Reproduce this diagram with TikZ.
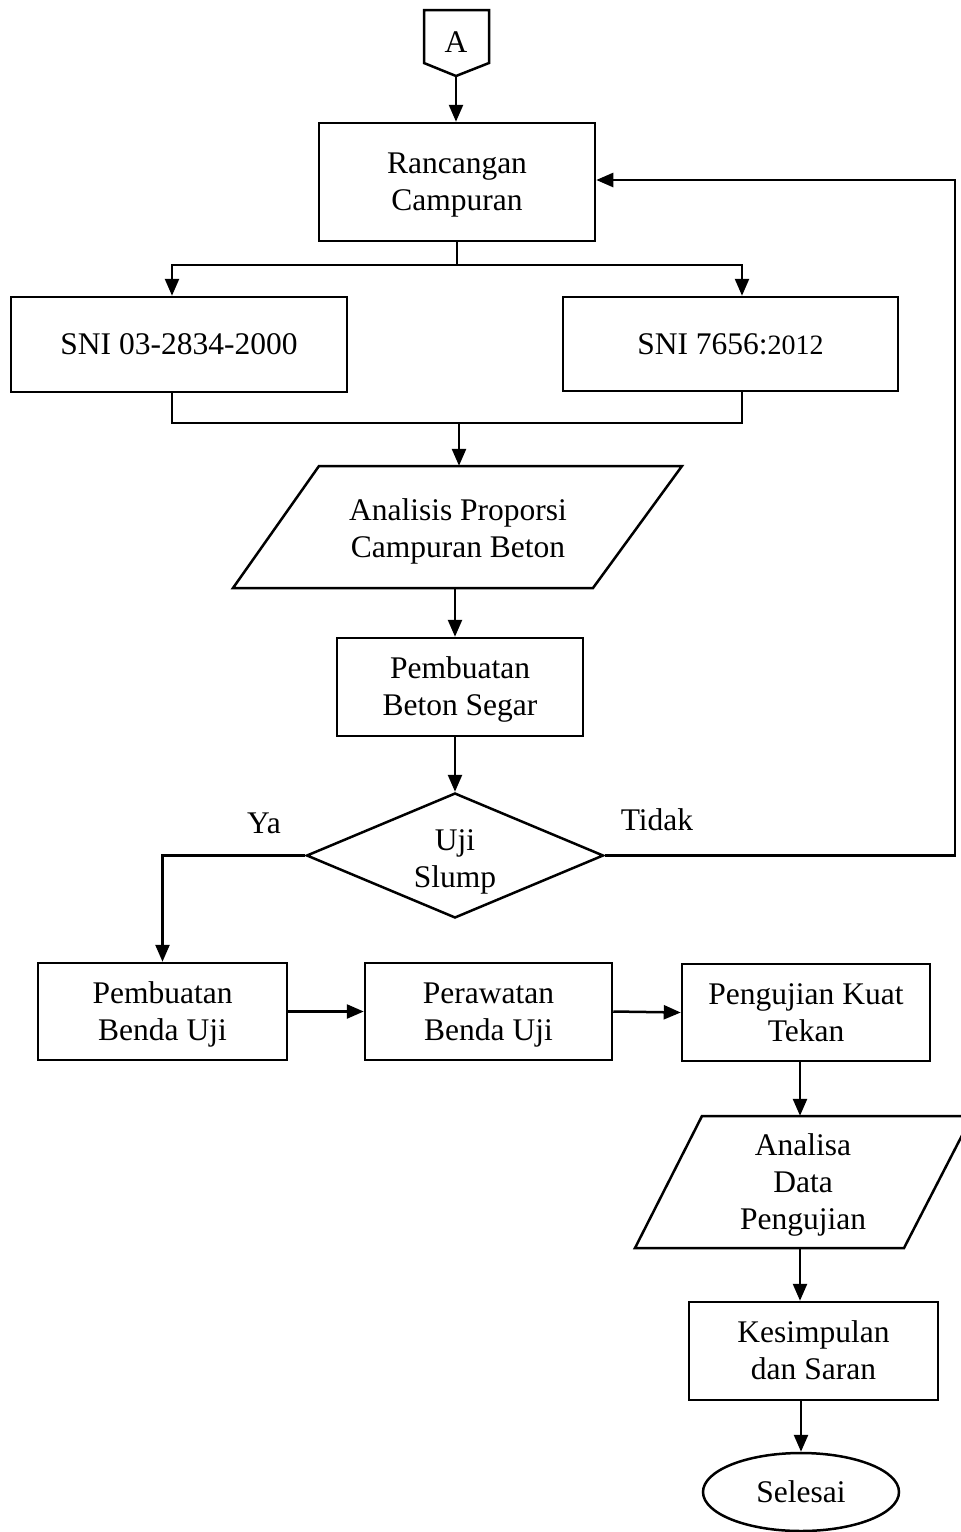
\documentclass[tikz,border=0pt]{standalone}
\usepackage{fontspec}
\setmainfont{Liberation Serif}
\usetikzlibrary{shapes.geometric,arrows.meta,calc}
\newcommand{\fsz}{\fontsize{31.5}{37}\selectfont}
\newcommand{\ms}{\rule[-8.1pt]{0pt}{37pt}}
\begin{document}
\begin{tikzpicture}[x=1pt,y=-1pt,
  box/.style={draw, line width=2.5pt, inner sep=0pt, align=center, font=\fsz},
  txt/.style={inner sep=0pt, align=center, font=\fsz},
  ln/.style={line width=2.5pt},
  arr/.style={line width=2.5pt, -{Triangle[length=17pt,width=14pt]}}]
\useasboundingbox (0,0) rectangle (961,1532);
\clip (0,0) rectangle (961,1532);
% off-page connector A
\draw[ln] (424,10) -- (489,10) -- (489,63) -- (456,76) -- (424,63) -- cycle;
\node[txt] (conA) at (456,42) {\ms A};
\coordinate (apt) at (456,76);
% boxes
\node[box, minimum width=276, minimum height=118] (ran) at (457,182) {\ms Rancangan\\\ms Campuran};
\node[box, minimum width=336, minimum height=95] (sni1) at (179,344.5) {\ms SNI 03-2834-2000};
\node[box, minimum width=335, minimum height=94] (sni2) at (730.5,344) {\ms SNI 7656:{\fontsize{28}{37}\selectfont 2012}};
% parallelogram Analisis
\draw[ln] (319,466) -- (682,466) -- (593,588) -- (233,588) -- cycle;
\node[inner sep=0pt, minimum width=100, minimum height=122] (an) at (457,527) {};
\node[txt] (ant) at (458,529) {\ms Analisis Proporsi\\\ms Campuran Beton};
\node[box, minimum width=246, minimum height=98] (pb) at (460,687) {\ms Pembuatan\\\ms Beton Segar};
\node[draw, line width=2.5pt, shape=diamond, aspect=2.376, minimum width=297, minimum height=125, inner sep=0pt] (uji) at (455,855.5) {};
\node[txt] (ujit) at (455,859) {\ms Uji\\\ms Slump};
\node[txt] (ya) at (264,823) {\ms Ya};
\node[txt] (tidak) at (657,820) {\ms Tidak};
\node[box, minimum width=249, minimum height=97] (pbu) at (162.5,1011.5) {\ms Pembuatan\\\ms Benda Uji};
\node[box, minimum width=247, minimum height=97] (pbw) at (488.5,1011.5) {\ms Perawatan\\\ms Benda Uji};
\node[box, minimum width=248, minimum height=97] (peng) at (806,1012.5) {\ms Pengujian Kuat\\\ms Tekan};
% parallelogram Analisa
\draw[ln] (702,1116) -- (972,1116) -- (904,1248) -- (635,1248) -- cycle;
\node[inner sep=0pt, minimum width=100, minimum height=132] (ana) at (800,1182) {};
\node[txt] (anat) at (803,1182) {\ms Analisa\\\ms Data\\\ms Pengujian};
\node[box, minimum width=249, minimum height=98] (kes) at (813.5,1351) {\ms Kesimpulan\\\ms dan Saran};
\node[box, shape=ellipse, minimum width=196, minimum height=78] (sel) at (801,1492) {\ms Selesai};
% connectors
\draw[arr] (apt) -- (apt |- ran.north);
\coordinate (j1) at (457,265);
\draw[ln] (ran.south) -- (j1);
\draw[arr] (j1) -| ([xshift=-7pt]sni1.north);
\draw[arr] (j1) -| ([xshift=11.5pt]sni2.north);
\coordinate (j2) at (459,423);
\draw[ln] ([xshift=-7pt]sni1.south) |- (j2) -| ([xshift=11.5pt]sni2.south);
\draw[arr] (j2) -- (j2 |- an.north);
\draw[arr] (an.south -| uji.north) -- (uji.north |- pb.north);
\draw[arr] (pb.south -| uji.north) -- (uji.north);
\draw[arr] (uji.west) -| (pbu.north);
\coordinate (rin) at ([yshift=2pt]ran.east);
\coordinate (rt) at (955,0);
\draw[arr] (uji.east) -| (rt |- rin) -- (rin);
\draw[arr] (pbu.east) -- (pbw.west);
\draw[arr] (pbw.east) -- (peng.west);
\draw[arr] (peng.south -| ana) -- (ana.north);
\draw[arr] (ana.south) -- (ana.south |- kes.north);
\draw[arr] (kes.south -| sel) -- (sel.north);
\end{tikzpicture}
\end{document}
